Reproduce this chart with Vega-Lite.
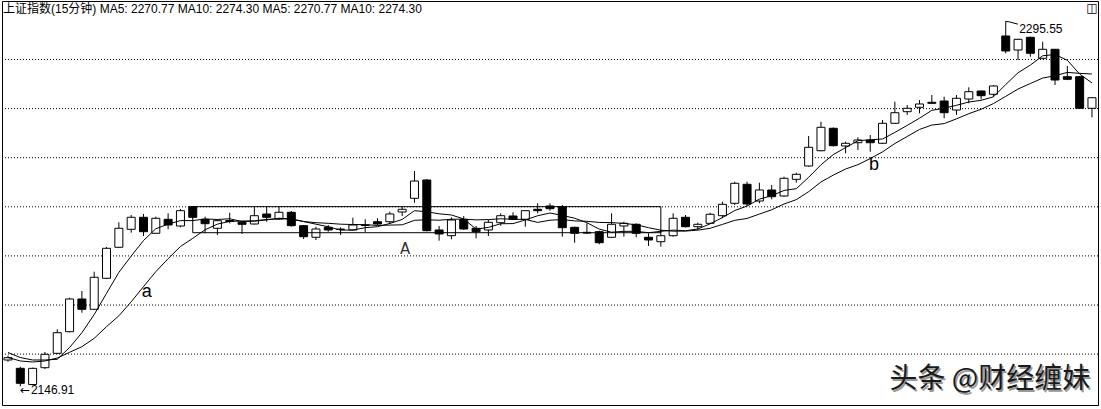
{
  "$schema": "https://vega.github.io/schema/vega-lite/v6.json",
  "width": 1101,
  "height": 409,
  "autosize": {"type": "fit", "contains": "padding"},
  "padding": {"left": 1, "top": 1, "right": 2, "bottom": 4},
  "background": "white",
  "config": {"view": {"stroke": "black", "strokeWidth": 1}},
  "datasets": {
    "k": [
      {"i":0,"o":2157.60,"h":2159.35,"l":2156.91,"c":2158.54,"ma5":2160.65,"ma10":2158.62},
      {"i":1,"o":2154.22,"h":2154.87,"l":2146.91,"c":2148.11,"ma5":2158.60,"ma10":2157.20},
      {"i":2,"o":2147.60,"h":2154.50,"l":2147.30,"c":2154.20,"ma5":2157.60,"ma10":2156.78},
      {"i":3,"o":2154.46,"h":2160.86,"l":2153.93,"c":2159.92,"ma5":2157.60,"ma10":2157.20},
      {"i":4,"o":2160.33,"h":2170.10,"l":2160.00,"c":2168.72,"ma5":2157.90,"ma10":2158.40},
      {"i":5,"o":2169.13,"h":2182.98,"l":2168.90,"c":2182.45,"ma5":2162.68,"ma10":2160.73},
      {"i":6,"o":2182.45,"h":2185.71,"l":2176.87,"c":2178.25,"ma5":2168.71,"ma10":2163.02},
      {"i":7,"o":2178.25,"h":2193.57,"l":2178.00,"c":2191.29,"ma5":2176.13,"ma10":2166.44},
      {"i":8,"o":2190.88,"h":2203.60,"l":2190.60,"c":2203.10,"ma5":2184.76,"ma10":2171.17},
      {"i":9,"o":2203.51,"h":2213.69,"l":2203.30,"c":2211.25,"ma5":2193.27,"ma10":2175.58},
      {"i":10,"o":2210.84,"h":2216.66,"l":2209.45,"c":2215.73,"ma5":2199.92,"ma10":2181.30},
      {"i":11,"o":2215.73,"h":2217.07,"l":2208.11,"c":2209.86,"ma5":2206.25,"ma10":2187.48},
      {"i":12,"o":2209.21,"h":2215.97,"l":2209.00,"c":2215.32,"ma5":2211.05,"ma10":2193.59},
      {"i":13,"o":2214.91,"h":2217.36,"l":2210.84,"c":2212.59,"ma5":2212.95,"ma10":2198.86},
      {"i":14,"o":2212.18,"h":2219.11,"l":2211.65,"c":2218.42,"ma5":2214.38,"ma10":2203.83},
      {"i":15,"o":2220.05,"h":2220.30,"l":2215.24,"c":2215.73,"ma5":2214.38,"ma10":2207.15},
      {"i":16,"o":2214.91,"h":2215.97,"l":2209.21,"c":2213.12,"ma5":2215.04,"ma10":2210.64},
      {"i":17,"o":2211.25,"h":2214.91,"l":2208.52,"c":2214.34,"ma5":2214.84,"ma10":2212.95},
      {"i":18,"o":2214.42,"h":2217.60,"l":2213.28,"c":2214.02,"ma5":2215.13,"ma10":2214.04},
      {"i":19,"o":2213.69,"h":2213.93,"l":2208.93,"c":2212.88,"ma5":2214.02,"ma10":2214.20},
      {"i":20,"o":2213.00,"h":2220.05,"l":2212.80,"c":2216.38,"ma5":2214.15,"ma10":2214.27},
      {"i":21,"o":2217.07,"h":2220.05,"l":2213.93,"c":2215.73,"ma5":2214.67,"ma10":2214.85},
      {"i":22,"o":2215.03,"h":2220.05,"l":2214.63,"c":2217.76,"ma5":2215.35,"ma10":2215.10},
      {"i":23,"o":2217.76,"h":2218.29,"l":2211.90,"c":2212.31,"ma5":2215.01,"ma10":2215.07},
      {"i":24,"o":2212.31,"h":2212.59,"l":2206.89,"c":2207.82,"ma5":2214.00,"ma10":2214.01},
      {"i":25,"o":2207.58,"h":2211.90,"l":2206.48,"c":2210.96,"ma5":2212.92,"ma10":2213.53},
      {"i":26,"o":2211.65,"h":2212.59,"l":2209.86,"c":2210.56,"ma5":2211.88,"ma10":2213.28},
      {"i":27,"o":2210.90,"h":2211.65,"l":2208.52,"c":2210.80,"ma5":2210.49,"ma10":2212.92},
      {"i":28,"o":2210.56,"h":2215.56,"l":2210.40,"c":2212.59,"ma5":2210.55,"ma10":2212.78},
      {"i":29,"o":2212.40,"h":2214.91,"l":2209.74,"c":2212.59,"ma5":2211.50,"ma10":2212.75},
      {"i":30,"o":2213.93,"h":2215.32,"l":2212.60,"c":2213.00,"ma5":2211.91,"ma10":2212.41},
      {"i":31,"o":2213.93,"h":2218.01,"l":2213.00,"c":2217.07,"ma5":2213.21,"ma10":2212.55},
      {"i":32,"o":2217.89,"h":2220.05,"l":2216.26,"c":2218.99,"ma5":2214.85,"ma10":2212.67},
      {"i":33,"o":2223.47,"h":2234.59,"l":2221.67,"c":2230.51,"ma5":2218.43,"ma10":2214.49},
      {"i":34,"o":2230.92,"h":2231.30,"l":2210.00,"c":2210.27,"ma5":2217.97,"ma10":2214.73},
      {"i":35,"o":2210.56,"h":2212.18,"l":2206.20,"c":2208.93,"ma5":2217.15,"ma10":2214.53},
      {"i":36,"o":2208.23,"h":2215.73,"l":2206.76,"c":2214.63,"ma5":2216.67,"ma10":2214.94},
      {"i":37,"o":2214.91,"h":2216.26,"l":2210.60,"c":2210.96,"ma5":2215.06,"ma10":2214.95},
      {"i":38,"o":2211.25,"h":2212.18,"l":2207.17,"c":2209.86,"ma5":2210.93,"ma10":2214.68},
      {"i":39,"o":2210.56,"h":2214.63,"l":2208.11,"c":2213.69,"ma5":2211.61,"ma10":2214.79},
      {"i":40,"o":2213.53,"h":2217.36,"l":2212.31,"c":2216.38,"ma5":2213.10,"ma10":2215.13},
      {"i":41,"o":2216.26,"h":2217.76,"l":2214.60,"c":2214.91,"ma5":2213.16,"ma10":2214.91},
      {"i":42,"o":2214.91,"h":2218.70,"l":2211.90,"c":2218.42,"ma5":2214.65,"ma10":2214.86},
      {"i":43,"o":2218.99,"h":2221.43,"l":2217.36,"c":2218.42,"ma5":2216.36,"ma10":2213.65},
      {"i":44,"o":2220.33,"h":2221.43,"l":2218.42,"c":2219.23,"ma5":2217.47,"ma10":2214.54},
      {"i":45,"o":2220.05,"h":2220.74,"l":2207.82,"c":2211.49,"ma5":2216.49,"ma10":2214.80},
      {"i":46,"o":2211.65,"h":2211.90,"l":2205.38,"c":2209.21,"ma5":2215.35,"ma10":2214.26},
      {"i":47,"o":2209.60,"h":2213.28,"l":2208.93,"c":2209.30,"ma5":2213.53,"ma10":2214.09},
      {"i":48,"o":2209.86,"h":2210.27,"l":2204.73,"c":2205.38,"ma5":2210.92,"ma10":2213.64},
      {"i":49,"o":2207.58,"h":2217.36,"l":2207.30,"c":2212.88,"ma5":2209.65,"ma10":2213.56},
      {"i":50,"o":2212.18,"h":2213.93,"l":2207.82,"c":2213.28,"ma5":2210.01,"ma10":2213.25},
      {"i":51,"o":2212.88,"h":2213.28,"l":2207.58,"c":2209.21,"ma5":2210.01,"ma10":2212.68},
      {"i":52,"o":2207.58,"h":2209.21,"l":2204.04,"c":2206.48,"ma5":2209.45,"ma10":2211.49},
      {"i":53,"o":2205.79,"h":2210.56,"l":2203.75,"c":2208.23,"ma5":2210.02,"ma10":2210.47},
      {"i":54,"o":2208.23,"h":2217.36,"l":2207.82,"c":2215.32,"ma5":2210.50,"ma10":2210.08},
      {"i":55,"o":2215.73,"h":2216.66,"l":2211.60,"c":2211.90,"ma5":2210.23,"ma10":2210.12},
      {"i":56,"o":2211.90,"h":2213.53,"l":2210.56,"c":2212.88,"ma5":2210.96,"ma10":2210.49},
      {"i":57,"o":2213.28,"h":2217.60,"l":2213.00,"c":2216.95,"ma5":2213.06,"ma10":2211.25},
      {"i":58,"o":2216.38,"h":2222.08,"l":2215.32,"c":2221.02,"ma5":2215.61,"ma10":2212.82},
      {"i":59,"o":2221.43,"h":2230.23,"l":2220.74,"c":2229.58,"ma5":2218.47,"ma10":2214.49},
      {"i":60,"o":2229.17,"h":2230.23,"l":2220.33,"c":2221.14,"ma5":2220.31,"ma10":2215.27},
      {"i":61,"o":2222.37,"h":2229.82,"l":2221.43,"c":2226.85,"ma5":2223.11,"ma10":2217.04},
      {"i":62,"o":2226.85,"h":2228.88,"l":2223.06,"c":2224.12,"ma5":2224.54,"ma10":2218.80},
      {"i":63,"o":2224.40,"h":2232.26,"l":2224.10,"c":2231.61,"ma5":2226.66,"ma10":2221.14},
      {"i":64,"o":2231.20,"h":2233.89,"l":2229.82,"c":2233.24,"ma5":2227.39,"ma10":2222.93},
      {"i":65,"o":2236.62,"h":2248.84,"l":2236.30,"c":2244.24,"ma5":2232.01,"ma10":2226.16},
      {"i":66,"o":2242.85,"h":2254.67,"l":2242.60,"c":2252.39,"ma5":2237.12,"ma10":2230.11},
      {"i":67,"o":2251.98,"h":2252.30,"l":2244.60,"c":2244.89,"ma5":2241.27,"ma10":2232.91},
      {"i":68,"o":2244.77,"h":2246.52,"l":2241.80,"c":2245.87,"ma5":2244.13,"ma10":2235.39},
      {"i":69,"o":2246.11,"h":2248.31,"l":2243.14,"c":2247.21,"ma5":2246.92,"ma10":2237.16},
      {"i":70,"o":2247.21,"h":2249.25,"l":2242.45,"c":2246.11,"ma5":2247.29,"ma10":2239.65},
      {"i":71,"o":2245.87,"h":2255.36,"l":2245.60,"c":2254.02,"ma5":2247.62,"ma10":2242.37},
      {"i":72,"o":2254.02,"h":2262.81,"l":2253.80,"c":2258.33,"ma5":2250.31,"ma10":2245.79},
      {"i":73,"o":2258.74,"h":2261.47,"l":2257.40,"c":2260.13,"ma5":2253.16,"ma10":2248.64},
      {"i":74,"o":2260.53,"h":2263.51,"l":2258.09,"c":2261.88,"ma5":2256.09,"ma10":2251.51},
      {"i":75,"o":2262.57,"h":2265.54,"l":2261.90,"c":2262.16,"ma5":2259.30,"ma10":2253.30},
      {"i":76,"o":2263.10,"h":2264.85,"l":2256.05,"c":2258.33,"ma5":2260.17,"ma10":2253.89},
      {"i":77,"o":2259.43,"h":2265.54,"l":2257.40,"c":2264.20,"ma5":2261.34,"ma10":2255.82},
      {"i":78,"o":2263.91,"h":2268.68,"l":2262.16,"c":2266.89,"ma5":2262.69,"ma10":2257.93},
      {"i":79,"o":2267.17,"h":2267.30,"l":2263.79,"c":2265.26,"ma5":2263.37,"ma10":2259.73},
      {"i":80,"o":2265.83,"h":2269.62,"l":2264.85,"c":2269.21,"ma5":2264.78,"ma10":2262.04},
      {"i":81,"o":2289.58,"h":2295.55,"l":2282.53,"c":2283.47,"ma5":2269.81,"ma10":2264.99},
      {"i":82,"o":2283.87,"h":2288.40,"l":2279.80,"c":2288.23,"ma5":2274.61,"ma10":2267.98},
      {"i":83,"o":2289.05,"h":2289.30,"l":2281.14,"c":2282.53,"ma5":2277.74,"ma10":2270.22},
      {"i":84,"o":2280.49,"h":2287.25,"l":2280.08,"c":2284.16,"ma5":2281.52,"ma10":2272.44},
      {"i":85,"o":2284.16,"h":2284.30,"l":2269.62,"c":2271.65,"ma5":2282.01,"ma10":2273.39},
      {"i":86,"o":2273.00,"h":2277.36,"l":2271.60,"c":2271.94,"ma5":2279.70,"ma10":2274.75},
      {"i":87,"o":2273.00,"h":2273.20,"l":2259.90,"c":2260.13,"ma5":2274.08,"ma10":2274.35},
      {"i":88,"o":2260.13,"h":2264.60,"l":2256.46,"c":2264.44,"ma5":2270.46,"ma10":2274.10}
    ],
    "grid": [{"v":2160},{"v":2180},{"v":2200},{"v":2220},{"v":2240},{"v":2260},{"v":2280}],
    "box": [{"x1":15,"x2":53,"y1":2209.45,"y2":2220.05}],
    "flag": [{"i":81,"p":2295.55,"k":0},{"i":81.32,"p":2295.3,"k":1},{"i":81.99,"p":2294.4,"k":2}]
  },
  "layer": [
    {
      "data": {"name": "grid"},
      "mark": {"type": "rule", "color": "black", "strokeWidth": 1, "strokeDash": [1, 2]},
      "encoding": {
        "y": {"field": "v", "type": "quantitative", "scale": {"domain": [2139.27, 2303.83], "nice": false, "zero": false, "padding": 0}, "axis": null}
      }
    },
    {
      "data": {"name": "k"},
      "mark": {"type": "rule", "color": "black", "strokeWidth": 1},
      "encoding": {
        "x": {"field": "i", "type": "quantitative", "scale": {"domain": [-0.486, 88.49], "nice": false, "zero": false, "padding": 0}, "axis": null},
        "y": {"field": "l", "type": "quantitative", "scale": {"domain": [2139.27, 2303.83], "nice": false, "zero": false, "padding": 0}, "axis": null},
        "y2": {"field": "h"}
      }
    },
    {
      "data": {"name": "k"},
      "mark": {"type": "bar", "width": 8, "stroke": "black", "strokeWidth": 1},
      "encoding": {
        "x": {"field": "i", "type": "quantitative", "scale": {"domain": [-0.486, 88.49], "nice": false, "zero": false, "padding": 0}, "axis": null},
        "y": {"field": "o", "type": "quantitative", "scale": {"domain": [2139.27, 2303.83], "nice": false, "zero": false, "padding": 0}, "axis": null},
        "y2": {"field": "c"},
        "fill": {"condition": {"test": "datum.c >= datum.o", "value": "white"}, "value": "black"}
      }
    },
    {
      "data": {"name": "k"},
      "mark": {"type": "line", "color": "black", "strokeWidth": 1},
      "encoding": {
        "x": {"field": "i", "type": "quantitative", "scale": {"domain": [-0.486, 88.49], "nice": false, "zero": false, "padding": 0}, "axis": null},
        "y": {"field": "ma5", "type": "quantitative", "scale": {"domain": [2139.27, 2303.83], "nice": false, "zero": false, "padding": 0}, "axis": null}
      }
    },
    {
      "data": {"name": "k"},
      "mark": {"type": "line", "color": "black", "strokeWidth": 1},
      "encoding": {
        "x": {"field": "i", "type": "quantitative", "scale": {"domain": [-0.486, 88.49], "nice": false, "zero": false, "padding": 0}, "axis": null},
        "y": {"field": "ma10", "type": "quantitative", "scale": {"domain": [2139.27, 2303.83], "nice": false, "zero": false, "padding": 0}, "axis": null}
      }
    },
    {
      "data": {"name": "box"},
      "mark": {"type": "rect", "fillOpacity": 0, "fill": "white", "stroke": "black", "strokeWidth": 1},
      "encoding": {
        "x": {"field": "x1", "type": "quantitative", "scale": {"domain": [-0.486, 88.49], "nice": false, "zero": false, "padding": 0}, "axis": null},
        "x2": {"field": "x2"},
        "y": {"field": "y1", "type": "quantitative", "scale": {"domain": [2139.27, 2303.83], "nice": false, "zero": false, "padding": 0}, "axis": null},
        "y2": {"field": "y2"}
      }
    },
    {
      "data": {"name": "flag"},
      "mark": {"type": "line", "color": "black", "strokeWidth": 1},
      "encoding": {
        "x": {"field": "i", "type": "quantitative", "scale": {"domain": [-0.486, 88.49], "nice": false, "zero": false, "padding": 0}, "axis": null},
        "y": {"field": "p", "type": "quantitative", "scale": {"domain": [2139.27, 2303.83], "nice": false, "zero": false, "padding": 0}, "axis": null},
        "order": {"field": "k"}
      }
    },
    {
      "data": {"values": [
        {"i": 82.09, "p": 2292.43, "t": "2295.55"},
        {"i": 1.86, "p": 2145.38, "t": "2146.91"}
      ]},
      "mark": {"type": "text", "align": "left", "baseline": "middle", "font": "Liberation Sans", "fontSize": 12, "color": "black"},
      "encoding": {
        "x": {"field": "i", "type": "quantitative", "scale": {"domain": [-0.486, 88.49], "nice": false, "zero": false, "padding": 0}, "axis": null},
        "y": {"field": "p", "type": "quantitative", "scale": {"domain": [2139.27, 2303.83], "nice": false, "zero": false, "padding": 0}, "axis": null},
        "text": {"field": "t"}
      }
    },
    {
      "data": {"values": [{"i": 0.97, "p": 2145.38, "t": "←"}]},
      "mark": {"type": "text", "align": "left", "baseline": "middle", "font": "DejaVu Sans", "fontSize": 12, "color": "black"},
      "encoding": {
        "x": {"field": "i", "type": "quantitative", "scale": {"domain": [-0.486, 88.49], "nice": false, "zero": false, "padding": 0}, "axis": null},
        "y": {"field": "p", "type": "quantitative", "scale": {"domain": [2139.27, 2303.83], "nice": false, "zero": false, "padding": 0}, "axis": null},
        "text": {"field": "t"}
      }
    },
    {
      "data": {"values": [
        {"i": 11.26, "p": 2185.18, "t": "a"},
        {"i": 70.30, "p": 2237.23, "t": "b"}
      ]},
      "mark": {"type": "text", "align": "center", "baseline": "middle", "font": "Liberation Sans", "fontSize": 18, "color": "black"},
      "encoding": {
        "x": {"field": "i", "type": "quantitative", "scale": {"domain": [-0.486, 88.49], "nice": false, "zero": false, "padding": 0}, "axis": null},
        "y": {"field": "p", "type": "quantitative", "scale": {"domain": [2139.27, 2303.83], "nice": false, "zero": false, "padding": 0}, "axis": null},
        "text": {"field": "t"}
      }
    },
    {
      "data": {"values": [{"i": 32.25, "p": 2202.81, "t": "A"}]},
      "mark": {"type": "text", "align": "center", "baseline": "middle", "font": "DejaVu Sans", "fontSize": 15, "color": "#333333"},
      "encoding": {
        "x": {"field": "i", "type": "quantitative", "scale": {"domain": [-0.486, 88.49], "nice": false, "zero": false, "padding": 0}, "axis": null},
        "y": {"field": "p", "type": "quantitative", "scale": {"domain": [2139.27, 2303.83], "nice": false, "zero": false, "padding": 0}, "axis": null},
        "text": {"field": "t"}
      }
    },
    {
      "data": {"values": [{"i": -0.405, "p": 2300.57, "t": "上证指数(15分钟) MA5: 2270.77  MA10: 2274.30  MA5: 2270.77  MA10: 2274.30"}]},
      "mark": {"type": "text", "align": "left", "baseline": "middle", "font": "Liberation Sans, Noto Sans CJK SC", "fontSize": 12, "color": "black"},
      "encoding": {
        "x": {"field": "i", "type": "quantitative", "scale": {"domain": [-0.486, 88.49], "nice": false, "zero": false, "padding": 0}, "axis": null},
        "y": {"field": "p", "type": "quantitative", "scale": {"domain": [2139.27, 2303.83], "nice": false, "zero": false, "padding": 0}, "axis": null},
        "text": {"field": "t"}
      }
    },
    {
      "data": {"values": [{"i": 88.0, "p": 2300.78, "t": "◫"}]},
      "mark": {"type": "text", "align": "center", "baseline": "middle", "font": "DejaVu Sans", "fontSize": 12, "color": "black"},
      "encoding": {
        "x": {"field": "i", "type": "quantitative", "scale": {"domain": [-0.486, 88.49], "nice": false, "zero": false, "padding": 0}, "axis": null},
        "y": {"field": "p", "type": "quantitative", "scale": {"domain": [2139.27, 2303.83], "nice": false, "zero": false, "padding": 0}, "axis": null},
        "text": {"field": "t"}
      }
    },
    {
      "data": {"values": [{"i": 71.56, "p": 2149.45, "t": "头条 @财经缠妹"}]},
      "mark": {"type": "text", "align": "left", "baseline": "middle", "font": "Noto Sans CJK SC", "fontSize": 28, "color": "#999999", "dx": 1.5, "dy": 1.5},
      "encoding": {
        "x": {"field": "i", "type": "quantitative", "scale": {"domain": [-0.486, 88.49], "nice": false, "zero": false, "padding": 0}, "axis": null},
        "y": {"field": "p", "type": "quantitative", "scale": {"domain": [2139.27, 2303.83], "nice": false, "zero": false, "padding": 0}, "axis": null},
        "text": {"field": "t"}
      }
    },
    {
      "data": {"values": [{"i": 71.56, "p": 2149.45, "t": "头条 @财经缠妹"}]},
      "mark": {"type": "text", "align": "left", "baseline": "middle", "font": "Noto Sans CJK SC", "fontSize": 28, "color": "#1a1a1a"},
      "encoding": {
        "x": {"field": "i", "type": "quantitative", "scale": {"domain": [-0.486, 88.49], "nice": false, "zero": false, "padding": 0}, "axis": null},
        "y": {"field": "p", "type": "quantitative", "scale": {"domain": [2139.27, 2303.83], "nice": false, "zero": false, "padding": 0}, "axis": null},
        "text": {"field": "t"}
      }
    }
  ]
}
